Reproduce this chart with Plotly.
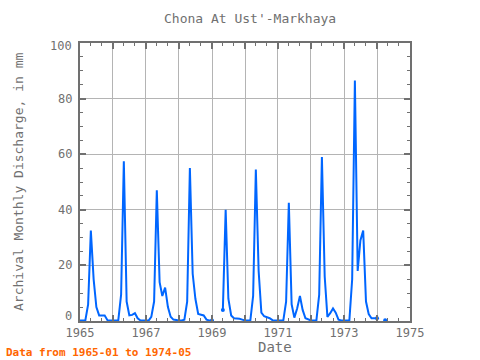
import pandas as pd
import plotly.graph_objects as go

# Monthly discharge (mm), 1965-01 .. 1974-05; None = missing
v1965 = [0.2, 0.2, 0.2, 6, 32.5, 15, 5, 2, 2, 2, 0.3, 0.2]
v1966 = [0.2, 0.2, 0.3, 9.5, 57.5, 7, 2, 2.2, 2.8, 1, 0.2, 0.2]
v1967 = [0.2, 0.2, 1.5, 7, 47, 14, 9, 12, 5, 1.5, 0.5, 0.3]
v1968 = [0.2, 0.2, 0.5, 7, 55, 17, 8, 2.5, 2.2, 2, 0.5, 0.2]
v1969 = [0.2, None, None, None, 4, 40, 8, 2, 1, 1, 0.8, 0.5]
v1970 = [0.2, 0.2, 0.2, 9, 54.5, 18, 3, 1.7, 1.3, 1, 0.3, 0.2]
v1971 = [0.2, 0.2, 0.2, 7, 42.5, 6, 1.2, 4.5, 9, 4, 1, 0.5]
v1972 = [0.2, 0.2, 0.2, 9.5, 59, 16, 1.5, 2.8, 4.5, 3, 0.5, 0.2]
v1973 = [0.2, 0.2, 0.2, 15, 86.5, 18, 29, 32.5, 7, 2.5, 1, 1]
v1974 = [1, None, None, 0.3, None]

values = v1965 + v1966 + v1967 + v1968 + v1969 + v1970 + v1971 + v1972 + v1973 + v1974
dates = pd.date_range("1965-01-01", periods=len(values), freq="MS")

year_ticks = [f"{y}-01-01" for y in range(1965, 1976)]
year_labels = [str(y) if (y - 1965) % 2 == 0 else "" for y in range(1965, 1976)]
y_ticks = [0, 20, 40, 60, 80, 100]

# points next to a gap get a dot
mx, my = [], []
for i, v in enumerate(values):
    if v is None:
        continue
    prev_none = i > 0 and values[i - 1] is None
    next_none = i < len(values) - 1 and values[i + 1] is None
    if prev_none or next_none:
        mx.append(dates[i])
        my.append(v)

BLUE = "#0066ff"
GRAY = "#707070"
FONT = "DejaVu Sans Mono"

fig = go.Figure()
fig.add_trace(go.Scatter(x=dates, y=values, mode="lines", connectgaps=False,
                         line=dict(color=BLUE, width=2), showlegend=False, hoverinfo="skip"))
fig.add_trace(go.Scatter(x=mx, y=my, mode="markers",
                         marker=dict(color=BLUE, size=4), showlegend=False, hoverinfo="skip"))

fig.update_layout(
    width=480, height=360,
    margin=dict(l=80, r=70, t=43, b=39, autoexpand=False),
    paper_bgcolor="white", plot_bgcolor="white",
    font=dict(family=FONT, size=12, color=GRAY),
    title=dict(text="Chona At Ust'-Markhaya", x=0.521, xanchor="center",
               xref="container", yref="container",
               y=1 - 18 / 360, yanchor="middle", font=dict(family=FONT, size=13, color=GRAY)),
)
fig.update_xaxes(
    type="date", range=["1965-01-01", "1975-01-01"], automargin=False,
    tickmode="array", tickvals=year_ticks, ticktext=year_labels,
    ticks="inside", ticklen=6, tickwidth=2, tickcolor=GRAY,
    showgrid=True, gridcolor="#b4b4b4", gridwidth=1,
    showline=True, linecolor=GRAY, linewidth=2, mirror="allticks",
    minor=dict(dtick="M4", tick0="1965-01-01", ticks="inside", ticklen=3,
               tickwidth=1, tickcolor=GRAY, showgrid=False),
    tickfont=dict(family=FONT, size=12, color=GRAY),
    zeroline=False,
)
fig.update_yaxes(
    range=[0, 100], tickmode="array", tickvals=y_ticks, automargin=False,
    ticks="inside", ticklen=6, tickwidth=2, tickcolor=GRAY,
    showgrid=True, gridcolor="#b4b4b4", gridwidth=1,
    showline=True, linecolor=GRAY, linewidth=2, mirror="allticks",
    minor=dict(dtick=5, tick0=0, ticks="inside", ticklen=3, tickwidth=1, tickcolor=GRAY, showgrid=False),
    showticklabels=False,
    zeroline=False,
)
# y tick labels: centred on gridlines, end labels nudged inside the frame
label_shift = {0: 5, 100: -3}
for t in y_ticks:
    fig.add_annotation(text=str(t), xref="paper", yref="y", x=0, y=t,
                       xanchor="right", yanchor="middle", xshift=-6,
                       yshift=label_shift.get(t, 0),
                       showarrow=False, font=dict(family=FONT, size=12, color=GRAY))
# axis titles and footnote as positioned text
fig.add_annotation(text="Date", xref="paper", yref="paper",
                   x=0.592, y=-(347 - 321) / 278, xanchor="center", yanchor="middle",
                   showarrow=False, font=dict(family=FONT, size=14, color=GRAY))
fig.add_annotation(text="Archival Monthly Discharge, in mm", xref="paper", yref="paper",
                   x=-(80 - 18) / 330, y=(321 - 182) / 278, xanchor="center", yanchor="middle",
                   textangle=-90, showarrow=False, font=dict(family=FONT, size=13, color=GRAY))
fig.add_annotation(text="<b>Data from 1965-01 to 1974-05</b>", xref="paper", yref="paper",
                   x=-(80 - 4) / 330, y=-(352 - 321) / 278, xanchor="left", yanchor="middle",
                   showarrow=False, font=dict(family=FONT, size=11, color="#ff6600"))

fig.write_html("out.html", config={"displayModeBar": False, "staticPlot": True},
               post_script="document.body.style.margin='0';document.body.style.overflow='hidden';")
